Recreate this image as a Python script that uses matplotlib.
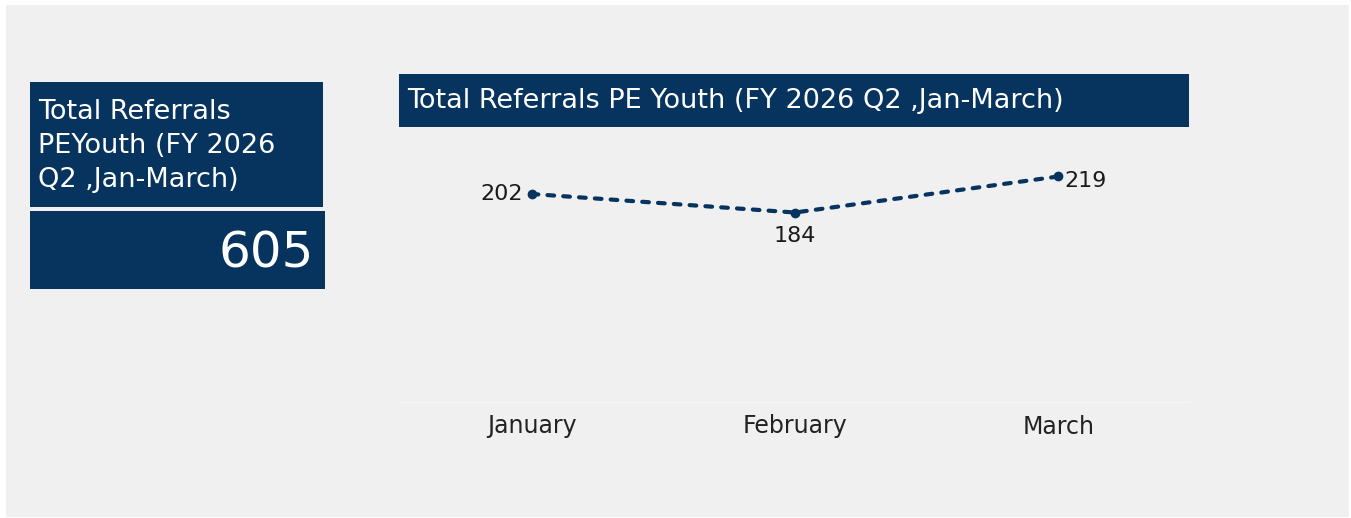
import matplotlib.pyplot as plt
from matplotlib.patches import Rectangle

# Data
months = ['January', 'February', 'March']
referrals = [202, 184, 219]
total_referrals = 605
card_title = 'Total Referrals\nPEYouth (FY 2026\nQ2 ,Jan-March)'
chart_title = 'Total Referrals PE Youth (FY 2026 Q2 ,Jan-March)'

NAVY = '#06345f'
BG = '#f0f0f0'
W, H = 1351, 518

plt.rcParams['font.family'] = ['DejaVu Sans']

fig = plt.figure(figsize=(W / 100, H / 100), dpi=100, facecolor='white')


def fx(px):
    return px / W


def fy(py):
    return 1 - py / H


def box(x0, y0, x1, y1, color):
    fig.patches.append(Rectangle((fx(x0), fy(y1)), fx(x1 - x0), (y1 - y0) / H,
                                 transform=fig.transFigure, facecolor=color,
                                 edgecolor='none', zorder=-5))


# Gray dashboard background
box(6, 5, 1349, 517, BG)

# KPI card
box(30, 82, 323, 207, NAVY)
box(30, 211, 325, 289, NAVY)
fig.text(fx(38), fy(146), card_title, color='white', fontsize=19.5,
         va='center', ha='left', linespacing=1.42)
fig.text(fx(314), fy(253), str(total_referrals), color='white', fontsize=36,
         va='center', ha='right')

# Chart title bar
box(399, 74, 1189, 127, NAVY)
fig.text(fx(407), fy(101), chart_title, color='white', fontsize=19.5,
         va='center', ha='left')

# Line chart
ax = fig.add_axes([fx(400), fy(402), fx(790), 242 / H])
ax.set_facecolor(BG)
x = list(range(len(months)))
ax.plot(x, referrals, color=NAVY, linestyle=(0, (1.6, 2.2)), linewidth=3.0,
        dash_capstyle='round', marker='o', markersize=6)
ax.set_xlim(-0.5, 2.5)
ax.set_ylim(0, 235)
ax.set_xticks(x)
ax.set_xticklabels(months, fontsize=17, color='#222222')
ax.tick_params(axis='x', length=0, pad=9)
ax.set_yticks([])
for s in ['top', 'left', 'right']:
    ax.spines[s].set_visible(False)
ax.spines['bottom'].set_color('#f7f7f7')

offsets = [(-6, 0, 'right', 'center'), (0, -10, 'center', 'top'),
           (4, -3.5, 'left', 'center')]
for xi, v, (dx, dy, ha, va) in zip(x, referrals, offsets):
    ax.annotate(str(v), (xi, v), xytext=(dx, dy), textcoords='offset points',
                ha=ha, va=va, fontsize=16, color='#1a1a1a')

fig.savefig('out.png', dpi=100, facecolor='white')
